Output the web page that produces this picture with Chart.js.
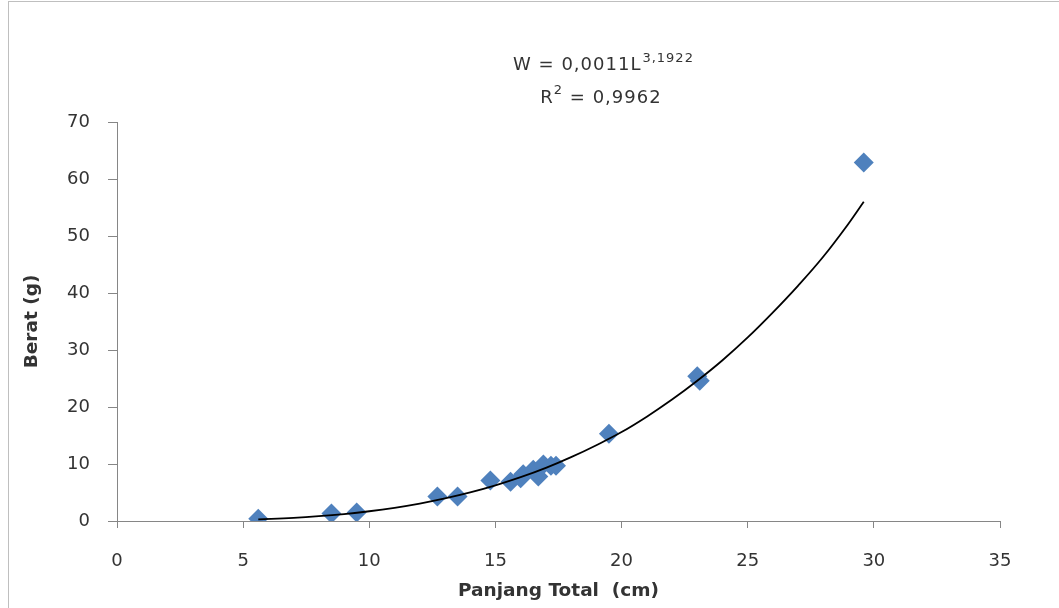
<!DOCTYPE html>
<html>
<head>
<meta charset="utf-8">
<script src="https://cdn.jsdelivr.net/npm/chart.js@4/dist/chart.umd.min.js"></script>
<style>
  html, body { margin: 0; padding: 0; background: #fff; }
  #wrap { position: relative; width: 1059px; height: 608px; }
</style>
</head>
<body>
<div id="wrap"><canvas id="lwChart" width="1059" height="608"></canvas></div>
<script>
// Length (cm) and weight (g) of the sampled fish
const panjang = [5.6, 8.5, 9.5, 12.7, 13.5, 14.8, 15.6, 16.0, 16.1, 16.5, 16.7, 16.9, 17.2, 17.4, 19.5, 23.0, 23.1, 29.6];
const berat   = [0.4, 1.3, 1.5, 4.3, 4.3, 7.1, 6.9, 7.5, 8.2, 9.0, 7.8, 9.9, 9.7, 9.7, 15.3, 25.4, 24.6, 62.9];

// Power trendline as it appears in the picture
const trendX = [5.6, 7, 8, 9, 10, 11, 12, 13, 14, 15, 16, 17, 18, 19, 20, 21, 22, 23, 24, 25, 26, 27, 28, 29, 29.6];
const trendY = [0.27, 0.55, 0.84, 1.22, 1.71, 2.32, 3.06, 3.96, 5.01, 6.25, 7.68, 9.32, 11.2, 13.3, 15.6, 18.3, 21.3, 24.6, 28.2, 32.2, 36.6, 41.3, 46.4, 52.2, 56.0];

const xTicks = [0, 5, 10, 15, 20, 25, 30, 35];
const yTicks = [0, 10, 20, 30, 40, 50, 60, 70];

const persamaan = 'W = 0,0011L';
const pangkat = '3,1922';
const rKuadrat = '= 0,9962';

const axisColor = '#868686';
const textColor = '#333333';
const tickFont = { family: 'DejaVu Sans', size: 18 };

// frame round the chart + equation label
const annotations = {
  id: 'annotations',
  beforeDraw(chart) {
    const ctx = chart.ctx;
    ctx.save();
    ctx.strokeStyle = '#bfbfbf';
    ctx.lineWidth = 1;
    ctx.strokeRect(8.5, 1.5, 1100, 700);
    ctx.restore();
  },
  afterDraw(chart) {
    const ctx = chart.ctx;
    ctx.save();
    ctx.fillStyle = textColor;
    ctx.textBaseline = 'alphabetic';
    ctx.textAlign = 'left';
    ctx.letterSpacing = '1px';
    const big = '18px "DejaVu Sans"';
    const small = '13px "DejaVu Sans"';
    // first line
    ctx.font = big;
    const w1 = ctx.measureText(persamaan).width;
    ctx.font = small;
    const w2 = ctx.measureText(pangkat).width;
    let x = 603 - (w1 + w2) / 2;
    ctx.font = big;
    ctx.fillText(persamaan, x, 70);
    ctx.font = small;
    ctx.fillText(pangkat, x + w1 + 1, 62);
    // second line
    ctx.font = big;
    const rw = ctx.measureText('R').width;
    ctx.font = small;
    const sw = ctx.measureText('2').width;
    ctx.font = big;
    const tw = ctx.measureText(' ' + rKuadrat).width;
    x = 601 - (rw + sw + tw) / 2;
    ctx.fillText('R', x, 103);
    ctx.font = small;
    ctx.fillText('2', x + rw, 94);
    ctx.font = big;
    ctx.fillText(' ' + rKuadrat, x + rw + sw, 103);
    ctx.restore();
  }
};

new Chart(document.getElementById('lwChart'), {
  type: 'scatter',
  data: {
    datasets: [
      {
        label: 'Berat',
        data: panjang.map((p, i) => ({ x: p, y: berat[i] })),
        pointStyle: 'rectRot',
        pointRadius: 10,
        pointHoverRadius: 10,
        backgroundColor: '#4f81bd',
        borderColor: '#4f81bd',
        borderWidth: 0,
        order: 2
      },
      {
        label: 'Power',
        type: 'line',
        data: trendX.map((p, i) => ({ x: p, y: trendY[i] })),
        borderColor: '#000',
        borderWidth: 1.8,
        pointRadius: 0,
        fill: false,
        tension: 0.4,
        order: 1
      }
    ]
  },
  options: {
    responsive: false,
    animation: false,
    layout: { padding: { top: 122, right: 59, left: 0, bottom: 0 } },
    plugins: {
      legend: { display: false },
      tooltip: { enabled: false }
    },
    scales: {
      x: {
        type: 'linear',
        min: 0,
        max: 35,
        afterBuildTicks: s => { s.ticks = xTicks.map(v => ({ value: v })); },
        afterFit: s => { s.height = 87; },
        grid: { drawOnChartArea: false, drawTicks: true, tickLength: 7, color: axisColor },
        border: { color: axisColor, width: 1 },
        ticks: { color: textColor, font: tickFont, padding: 23, maxRotation: 0 },
        title: {
          display: true,
          text: 'Panjang Total  (cm)',
          color: textColor,
          font: { family: 'DejaVu Sans', size: 18.5, weight: 'bold' },
          padding: { top: 0, bottom: 6 }
        }
      },
      y: {
        type: 'linear',
        min: 0,
        max: 70,
        afterBuildTicks: s => { s.ticks = yTicks.map(v => ({ value: v })); },
        afterFit: s => { s.width = 117; },
        grid: { drawOnChartArea: false, drawTicks: true, tickLength: 9, color: axisColor },
        border: { color: axisColor, width: 1 },
        ticks: { color: textColor, font: tickFont, padding: 18 },
        title: {
          display: true,
          text: 'Berat (g)',
          color: textColor,
          font: { family: 'DejaVu Sans', size: 18.5, weight: 'bold' },
          padding: { top: 21, bottom: 0 }
        }
      }
    }
  },
  plugins: [annotations]
});
</script>
</body>
</html>
